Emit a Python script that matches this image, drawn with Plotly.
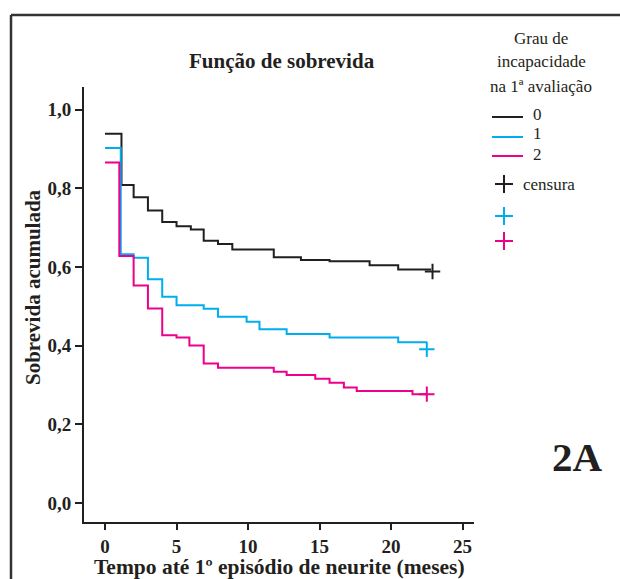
import plotly.graph_objects as go

# ---- data ----
t0 = [0, 1.15, 2.0, 3.0, 4.0, 5.0, 6.0, 6.9, 7.9, 8.9, 11.8, 13.7, 15.7, 18.5, 20.5, 22.8]
s0 = [0.939, 0.809, 0.778, 0.744, 0.715, 0.704, 0.696, 0.667, 0.659, 0.645, 0.625, 0.618, 0.615, 0.605, 0.594, 0.594]
t1 = [0, 1.1, 2.0, 3.0, 4.0, 5.0, 6.9, 7.9, 9.9, 10.8, 12.7, 15.7, 20.5, 22.5]
s1 = [0.903, 0.633, 0.624, 0.569, 0.525, 0.503, 0.494, 0.474, 0.461, 0.442, 0.430, 0.421, 0.409, 0.409]
t2 = [0, 1.0, 2.0, 3.0, 4.0, 5.0, 5.9, 6.9, 7.9, 11.8, 12.7, 14.7, 15.7, 16.7, 17.6, 21.5, 22.5]
s2 = [0.866, 0.628, 0.553, 0.495, 0.427, 0.421, 0.401, 0.355, 0.344, 0.334, 0.326, 0.316, 0.306, 0.294, 0.285, 0.277, 0.277]
cens_t = [22.9, 22.5, 22.5]
cens_s = [0.589, 0.391, 0.277]

group_names = ["0", "1", "2"]
colors = ["#231f20", "#00aeef", "#ec008c"]
yticks = [0.0, 0.2, 0.4, 0.6, 0.8, 1.0]
ytick_labels = ["0,0", "0,2", "0,4", "0,6", "0,8", "1,0"]
xticks = [0, 5, 10, 15, 20, 25]

W, H = 620, 579
L, R, T, B = 84, 474, 87, 522


def px(x):
    return (x - L) / (R - L)


def py(y):
    return (B - y) / (B - T)


fig = go.Figure()
for t, s, c in zip([t0, t1, t2], [s0, s1, s2], colors):
    fig.add_trace(go.Scatter(x=t, y=s, mode="lines", line=dict(color=c, width=2, shape="hv"),
                             showlegend=False, hoverinfo="skip"))
for x, y, c in zip(cens_t, cens_s, colors):
    fig.add_trace(go.Scatter(x=[x], y=[y], mode="markers",
                             marker=dict(symbol="cross-thin", size=11, line=dict(color=c, width=2)),
                             showlegend=False, hoverinfo="skip"))

serif = "Liberation Serif"
axis_col = "#231f20"

shapes = []
# frame
shapes.append(dict(type="line", xref="paper", yref="paper", x0=px(11), x1=px(640), y0=py(15), y1=py(15),
                   line=dict(color="#333", width=2.5)))
shapes.append(dict(type="line", xref="paper", yref="paper", x0=px(11), x1=px(11), y0=py(15), y1=py(600),
                   line=dict(color="#333", width=2.5)))
# legend lines
for yy, c in zip([117, 137, 156], colors):
    shapes.append(dict(type="line", xref="paper", yref="paper", x0=px(492), x1=px(523), y0=py(yy), y1=py(yy),
                       line=dict(color=c, width=2)))
# legend crosses
for yy, c in zip([184, 216, 241], colors):
    shapes.append(dict(type="line", xref="paper", yref="paper", x0=px(495), x1=px(513), y0=py(yy), y1=py(yy),
                       line=dict(color=c, width=2)))
    shapes.append(dict(type="line", xref="paper", yref="paper", x0=px(504), x1=px(504), y0=py(yy - 9), y1=py(yy + 9),
                       line=dict(color=c, width=2)))


def ann(text, x, y, size, xanchor="center", bold=False, angle=0):
    return dict(text=("<b>%s</b>" % text) if bold else text, x=px(x), y=py(y), xref="paper", yref="paper",
                showarrow=False, xanchor=xanchor, yanchor="middle", textangle=angle,
                font=dict(family=serif, size=size, color=axis_col))


annotations = [
    ann("Função de sobrevida", 282, 61, 21, bold=True),
    ann("Grau de", 541, 38, 17),
    ann("incapacidade", 541, 62, 17),
    ann("na 1ª avaliação", 541, 86, 17),
    ann("censura", 521, 184, 17, xanchor="left"),
    ann("2A", 577, 457, 41, bold=True),
    ann("Tempo até 1º episódio de neurite (meses)", 279, 567, 21.5, bold=True),
    ann("Sobrevida acumulada", 33, 287, 21, bold=True, angle=-90),
]
for name, yy in zip(group_names, [114, 134, 154]):
    annotations.append(ann(name, 531, yy, 17, xanchor="left"))

fig.update_layout(
    width=W, height=H,
    margin=dict(l=L, r=W - R, t=T, b=H - B, pad=0),
    paper_bgcolor="white", plot_bgcolor="white",
    shapes=shapes, annotations=annotations,
    xaxis=dict(range=[-1.47, 25.8], tickvals=xticks, ticks="outside", ticklen=6, tickwidth=2,
               tickcolor=axis_col, showline=True, linecolor=axis_col, linewidth=2, showgrid=False,
               zeroline=False, tickfont=dict(family=serif, size=19, color=axis_col, weight="bold")),
    yaxis=dict(range=[-0.048, 1.058], tickvals=yticks, ticktext=ytick_labels, ticks="outside", ticklen=7,
               tickwidth=2, tickcolor=axis_col, showline=True, linecolor=axis_col, linewidth=2,
               showgrid=False, zeroline=False,
               tickfont=dict(family=serif, size=19, color=axis_col, weight="bold")),
)

fig.write_html("out.html", config={"displayModeBar": False},
               post_script="document.body.style.margin='0px';")
